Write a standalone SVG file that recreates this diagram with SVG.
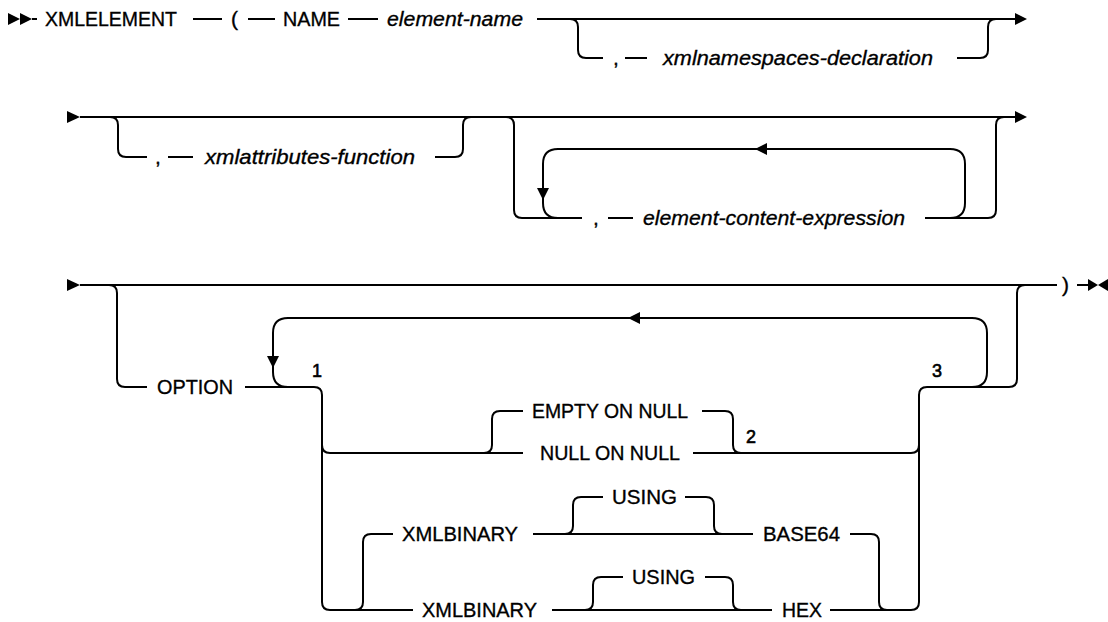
<svg xmlns="http://www.w3.org/2000/svg" width="1108" height="622" viewBox="0 0 1108 622">
<style>
.ln{fill:none;stroke:#000;stroke-width:2}
.ah{fill:#000;stroke:none}
.t{font-family:"Liberation Sans",Arial,sans-serif;font-size:21px;fill:#000;stroke:#000;stroke-width:0.35}
.i{font-style:italic}
.num{font-size:18px;stroke-width:0.6}
</style>
<rect width="1108" height="622" fill="#fff"/>
<g id="connectors">
<!-- row 1 -->
<polygon class="ah" points="8,13 20,19 8,25"/>
<polygon class="ah" points="20,13 32,19 20,25"/>
<path class="ln" d="M32 19H37 M193 19H222 M248 19H275 M348 19H378 M537 19H1015"/>
<polygon class="ah" points="1015,13 1027,19 1015,25"/>
<path class="ln" d="M570 19Q578 19 578 27V50Q578 58 586 58H603 M625 58H647 M957 58H980Q988 58 988 50V27Q988 19 996 19"/>
<!-- row 2 -->
<polygon class="ah" points="67,111 80,117 67,123"/>
<path class="ln" d="M80 117H1015"/>
<polygon class="ah" points="1015,111 1027,117 1015,123"/>
<path class="ln" d="M110 117Q118 117 118 125V149Q118 157 126 157H147 M168 157H193 M435 157H455Q463 157 463 149V125Q463 117 471 117"/>
<path class="ln" d="M506 117Q514 117 514 125V210Q514 218 522 218H582 M608 218H633 M925 218H988Q996 218 996 210V125Q996 117 1004 117"/>
<path class="ln" d="M950 218Q965 218 965 203V164Q965 149 950 149H558Q543 149 543 164V203Q543 218 558 218"/>
<polygon class="ah" points="755,149 767,143 767,155"/>
<polygon class="ah" points="537,188 549,188 543,200"/>
<!-- row 3 -->
<polygon class="ah" points="67,279 80,285 67,291"/>
<path class="ln" d="M80 285H1057 M1077 285H1088"/>
<polygon class="ah" points="1088,279 1098,285 1088,291"/>
<polygon class="ah" points="1108,279 1098,285 1108,291"/>
<path class="ln" d="M109 285Q117 285 117 293V379Q117 387 125 387H147 M245 387H314Q322 387 322 395V602Q322 610 330 610H413"/>
<path class="ln" d="M972 387Q987 387 987 372V333Q987 318 972 318H288Q273 318 273 333V372Q273 387 288 387"/>
<polygon class="ah" points="628,318 640,312 640,324"/>
<polygon class="ah" points="267,356 279,356 273,368"/>
<path class="ln" d="M911 610Q919 610 919 602V395Q919 387 927 387H1009Q1017 387 1017 379V293Q1017 285 1025 285"/>
<!-- alt 1 -->
<path class="ln" d="M322 445Q322 453 330 453H523 M693 453H911Q919 453 919 445"/>
<path class="ln" d="M484 453Q492 453 492 445V419Q492 411 500 411H523 M702 411H725Q733 411 733 419V445Q733 453 741 453"/>
<!-- alt 2 -->
<path class="ln" d="M355 610Q363 610 363 602V542Q363 534 371 534H393 M533 534H753 M850 534H871Q879 534 879 542V602Q879 610 887 610"/>
<path class="ln" d="M565 534Q573 534 573 526V505Q573 497 581 497H603 M685 497H706Q714 497 714 505V526Q714 534 722 534"/>
<!-- alt 3 -->
<path class="ln" d="M552 610H772 M830 610H911"/>
<path class="ln" d="M585 610Q593 610 593 602V585Q593 577 601 577H623 M705 577H725Q733 577 733 585V602Q733 610 741 610"/>
</g>
<g id="n-xmlelement"><text class="t" x="45" y="26" textLength="132" lengthAdjust="spacingAndGlyphs">XMLELEMENT</text></g>
<g id="n-lparen"><text class="t" x="231" y="26">(</text></g>
<g id="n-name"><text class="t" x="283" y="26" textLength="57" lengthAdjust="spacingAndGlyphs">NAME</text></g>
<g id="n-element-name"><text class="t i" x="387" y="26" textLength="136" lengthAdjust="spacingAndGlyphs">element-name</text></g>
<g id="n-comma1"><text class="t" x="613" y="65">,</text></g>
<g id="n-xmlnamespaces"><text class="t i" x="663" y="65" textLength="270" lengthAdjust="spacingAndGlyphs">xmlnamespaces-declaration</text></g>
<g id="n-comma2"><text class="t" x="155" y="164">,</text></g>
<g id="n-xmlattributes"><text class="t i" x="205" y="164" textLength="210" lengthAdjust="spacingAndGlyphs">xmlattributes-function</text></g>
<g id="n-comma3"><text class="t" x="593" y="225">,</text></g>
<g id="n-content"><text class="t i" x="643" y="225" textLength="262" lengthAdjust="spacingAndGlyphs">element-content-expression</text></g>
<g id="n-option"><text class="t" x="157" y="394" textLength="76" lengthAdjust="spacingAndGlyphs">OPTION</text></g>
<g id="n-note1"><text class="t num" x="312" y="377">1</text></g>
<g id="n-empty"><text class="t" x="532" y="418" textLength="156" lengthAdjust="spacingAndGlyphs">EMPTY ON NULL</text></g>
<g id="n-note2"><text class="t num" x="746" y="443">2</text></g>
<g id="n-null"><text class="t" x="540" y="460" textLength="140" lengthAdjust="spacingAndGlyphs">NULL ON NULL</text></g>
<g id="n-xmlbinary1"><text class="t" x="402" y="541" textLength="116" lengthAdjust="spacingAndGlyphs">XMLBINARY</text></g>
<g id="n-using1"><text class="t" x="612" y="504" textLength="65" lengthAdjust="spacingAndGlyphs">USING</text></g>
<g id="n-base64"><text class="t" x="763" y="541" textLength="77" lengthAdjust="spacingAndGlyphs">BASE64</text></g>
<g id="n-xmlbinary2"><text class="t" x="422" y="617" textLength="115" lengthAdjust="spacingAndGlyphs">XMLBINARY</text></g>
<g id="n-using2"><text class="t" x="632" y="584" textLength="63" lengthAdjust="spacingAndGlyphs">USING</text></g>
<g id="n-hex"><text class="t" x="782" y="617" textLength="40" lengthAdjust="spacingAndGlyphs">HEX</text></g>
<g id="n-note3"><text class="t num" x="932" y="377">3</text></g>
<g id="n-rparen"><text class="t" x="1062" y="292">)</text></g>
</svg>
